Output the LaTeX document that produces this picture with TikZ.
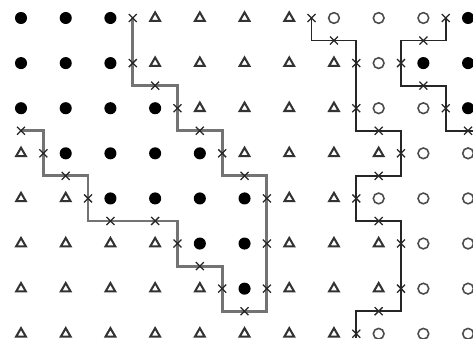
\documentclass[tikz,border=0pt]{standalone}
\usetikzlibrary{shapes.geometric,shapes.misc}

\tikzset{
  dot/.style={circle,fill=black,inner sep=0pt,minimum size=0.27cm},
  tri/.style={regular polygon,regular polygon sides=3,draw=black!80,line width=1.3pt,inner sep=0pt,minimum size=0.25cm},
  ring/.style={circle,draw=black!70,line width=1pt,inner sep=0pt,minimum size=0.24cm},
  xmark/.style={cross out,draw=black!85,line width=0.8pt,inner sep=0pt,minimum size=0.15cm},
  bordA/.style={draw=black!55,line width=1.8pt},
  bordB/.style={draw=black!85,line width=1.1pt}
}

\begin{document}
\begin{tikzpicture}[x=1cm,y=1.009cm]

\useasboundingbox (-0.47,-7.095) rectangle (10.11,0.399);

% Grille des points
\foreach \row [count=\j from 0] in {
  {dot,dot,dot,tri,tri,tri,tri,ring,ring,ring,dot},
  {dot,dot,dot,tri,tri,tri,tri,tri,ring,dot,dot},
  {dot,dot,dot,dot,tri,tri,tri,tri,ring,ring,dot},
  {tri,dot,dot,dot,dot,tri,tri,tri,tri,ring,ring},
  {tri,tri,dot,dot,dot,dot,tri,tri,ring,ring,ring},
  {tri,tri,tri,tri,dot,dot,tri,tri,tri,ring,ring},
  {tri,tri,tri,tri,tri,dot,tri,tri,tri,ring,ring},
  {tri,tri,tri,tri,tri,tri,tri,tri,ring,ring,ring}}
{
  \foreach \s [count=\i from 0] in \row
    \node[\s] (p-\i-\j) at (\i,-\j) {};
}

% Frontiere gauche
\draw[bordA] (2.5,0) -- (2.5,-1.5) -- (3.5,-1.5) -- (3.5,-2.5)
  -- (4.5,-2.5) -- (4.5,-3.5) -- (5.5,-3.5) -- (5.5,-6.5)
  -- (4.5,-6.5) -- (4.5,-5.5) -- (3.5,-5.5) -- (3.5,-4.5)
  -- (1.5,-4.5) -- (1.5,-3.5) -- (0.5,-3.5) -- (0.5,-2.5) -- (0,-2.5);

% Frontiere du milieu
\draw[bordB] (6.5,0) -- (6.5,-0.5) -- (7.5,-0.5) -- (7.5,-2.5)
  -- (8.5,-2.5) -- (8.5,-3.5) -- (7.5,-3.5) -- (7.5,-4.5)
  -- (8.5,-4.5) -- (8.5,-6.5) -- (7.5,-6.5) -- (7.5,-7.095);

% Frontiere droite
\draw[bordB] (9.5,0) -- (9.5,-0.5) -- (8.5,-0.5) -- (8.5,-1.5)
  -- (9.5,-1.5) -- (9.5,-2.5) -- (10.11,-2.5);

% Croix
\foreach \p [count=\k] in {(2.5,0),(2.5,-1),(3,-1.5),(3.5,-2),(4,-2.5),
  (4.5,-3),(5,-3.5),(5.5,-4),(5.5,-5),(5.5,-6),(5,-6.5),(4.5,-6),
  (4,-5.5),(3.5,-5),(3,-4.5),(2,-4.5),(1.5,-4),(1,-3.5),(0.5,-3),(0,-2.5)}
  \node[xmark] (a\k) at \p {};

\foreach \p [count=\k] in {(6.5,0),(7,-0.5),(7.5,-1),(7.5,-2),(8,-2.5),
  (8.5,-3),(8,-3.5),(7.5,-4),(8,-4.5),(8.5,-5),(8.5,-6),(8,-6.5),(7.5,-7)}
  \node[xmark] (b\k) at \p {};

\foreach \p [count=\k] in {(9.5,0),(9,-0.5),(8.5,-1),(9,-1.5),(9.5,-2),(10,-2.5)}
  \node[xmark] (c\k) at \p {};

\end{tikzpicture}
\end{document}
